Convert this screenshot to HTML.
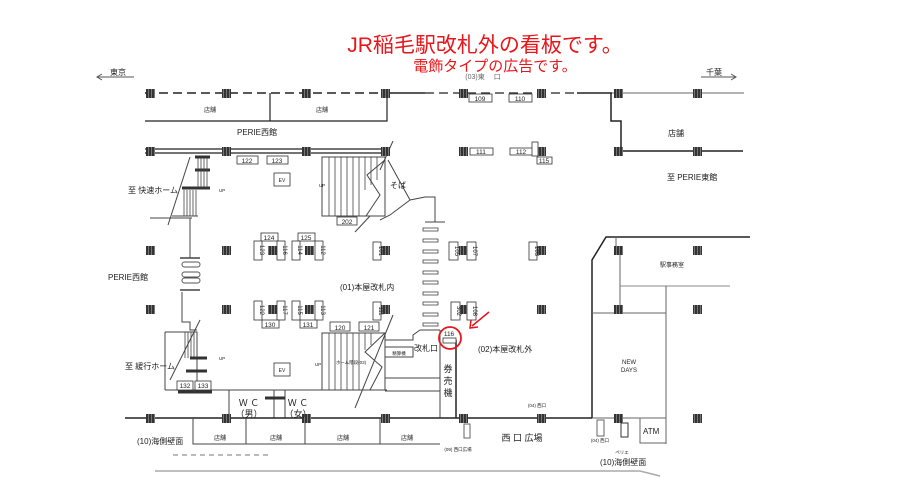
<!DOCTYPE html>
<html><head><meta charset="utf-8"><style>
html,body{margin:0;padding:0;background:#fff;width:919px;height:491px;overflow:hidden}
svg{display:block}
text{font-family:"Liberation Sans","Noto Sans CJK JP",sans-serif;fill:#222}
</style></head><body>
<svg width="919" height="491" viewBox="0 0 919 491" xmlns="http://www.w3.org/2000/svg">
<defs>
<pattern id="pp" width="3" height="3" patternUnits="userSpaceOnUse"><rect width="3" height="3" fill="#333"/><rect x="1" y="0" width="1" height="3" fill="#777"/></pattern>
</defs>
<!-- title -->
<text x="485" y="52" font-size="21" fill="#e8161b" style="fill:#e8161b" text-anchor="middle">JR稲毛駅改札外の看板です。</text>
<text x="495" y="71" font-size="15" style="fill:#e8161b" text-anchor="middle">電飾タイプの広告です。</text>
<text x="483" y="79" font-size="7" text-anchor="middle" style="fill:#666">(03)東　 口</text>
<!-- direction -->
<text x="110" y="75" font-size="8">東京</text>
<line x1="97" y1="77" x2="134" y2="77" stroke="#555" stroke-width="1"/>
<path d="M102 74 L97 77 L102 80" fill="none" stroke="#555"/>
<text x="706" y="75" font-size="8">千葉</text>
<line x1="701" y1="77" x2="736" y2="77" stroke="#555"/>
<path d="M731 74 L736 77 L731 80" fill="none" stroke="#555"/>

<g stroke="#222" fill="none">
<!-- top line -->
<line x1="145" y1="93" x2="385" y2="93" stroke-width="1.5" stroke-dasharray="9,5"/>
<line x1="385" y1="93" x2="425" y2="93" stroke-width="1.5"/>
<line x1="425" y1="93" x2="577" y2="93" stroke-width="1.2" stroke-dasharray="9,5"/>
<line x1="577" y1="93" x2="612" y2="93" stroke-width="1.5"/>
<line x1="612" y1="93" x2="744" y2="93" stroke="#888" stroke-width="1.2"/>
<!-- stores top -->
<polyline points="145,121 387,121 387,93" stroke-width="1.2"/>
<line x1="270" y1="93" x2="270" y2="121" stroke-width="1.2"/>
<!-- row2 -->
<line x1="145" y1="149" x2="390" y2="149" stroke-width="1.2"/>
<line x1="145" y1="153" x2="390" y2="153" stroke-width="1.2"/>
<polyline points="611,93 611,121 621,121 621,151 743,151" stroke-width="1.5"/>
<!-- soba area -->
<line x1="393" y1="141" x2="380" y2="170" stroke="#444"/>
<polyline points="388,160 410,200 390,215 380,220" stroke="#444"/>
<polyline points="410,200 425,197 435,197 435,222" stroke="#444"/>
<line x1="425" y1="222" x2="445" y2="222" stroke="#444"/>
<!-- left stair upper -->
<line x1="195" y1="157" x2="210" y2="157" stroke-width="3" stroke="#333"/>
<line x1="195" y1="170" x2="210" y2="170" stroke-width="3" stroke="#333"/>
<line x1="182" y1="188" x2="210" y2="188" stroke-width="3" stroke="#333"/>
<line x1="172" y1="216" x2="198" y2="216" stroke="#444"/>
<line x1="150" y1="218" x2="192" y2="218" stroke="#444"/>
<line x1="190" y1="157" x2="168" y2="225" stroke="#444"/>
<g stroke="#444" stroke-width="0.8">
<line x1="184" y1="190" x2="184" y2="216"/><line x1="187" y1="190" x2="187" y2="216"/><line x1="190" y1="190" x2="190" y2="216"/><line x1="193" y1="190" x2="193" y2="216"/><line x1="196" y1="190" x2="196" y2="216"/>
<line x1="198" y1="158" x2="198" y2="188"/><line x1="201" y1="158" x2="201" y2="188"/><line x1="204" y1="158" x2="204" y2="188"/><line x1="207" y1="158" x2="207" y2="188"/>
</g>
<line x1="190" y1="218" x2="190" y2="258" stroke="#444"/>
<line x1="180" y1="258" x2="200" y2="258" stroke="#444" stroke-width="1.5"/>
<rect x="182" y="262" width="18" height="5" rx="2.5" stroke="#555"/>
<rect x="182" y="272" width="18" height="5" rx="2.5" stroke="#555"/>
<rect x="182" y="278" width="18" height="5" rx="2.5" stroke="#555"/>
<!-- left stair lower -->
<line x1="180" y1="290" x2="200" y2="290" stroke="#444" stroke-width="1.5"/>
<polyline points="182,292 182,322 190,322 190,330 197,330" stroke="#444"/>
<polyline points="165,332 197,332 197,390" stroke="#444"/>
<polyline points="197,390 387,390" stroke="#444"/>
<line x1="200" y1="320" x2="170" y2="380" stroke="#444"/>
<g stroke="#444" stroke-width="0.8">
<line x1="185" y1="332" x2="185" y2="358"/><line x1="188" y1="332" x2="188" y2="358"/><line x1="191" y1="332" x2="191" y2="358"/><line x1="194" y1="332" x2="194" y2="358"/>
</g>
<line x1="190" y1="358" x2="207" y2="358" stroke-width="3" stroke="#333"/>
<line x1="186" y1="371" x2="207" y2="371" stroke-width="3" stroke="#333"/>
<line x1="178" y1="392" x2="212" y2="392" stroke-width="3" stroke="#333"/>
<line x1="165" y1="332" x2="165" y2="390" stroke="#444"/>
<line x1="165" y1="390" x2="197" y2="390" stroke="#444"/>
<!-- big stair upper -->
<rect x="322" y="157" width="63" height="59" stroke="#444"/>
<g stroke="#444" stroke-width="0.8">
<line x1="329" y1="157" x2="329" y2="216"/><line x1="335" y1="157" x2="335" y2="216"/><line x1="341" y1="157" x2="341" y2="216"/><line x1="347" y1="157" x2="347" y2="216"/><line x1="353" y1="157" x2="353" y2="216"/><line x1="359" y1="157" x2="359" y2="216"/><line x1="365" y1="157" x2="365" y2="190"/><line x1="371" y1="157" x2="371" y2="185"/><line x1="377" y1="157" x2="377" y2="180"/>
</g>
<polyline points="385,160 367,175 380,195 366,216" stroke="#444"/>
<line x1="370" y1="216" x2="355" y2="232" stroke="#444"/>
<!-- big stair lower -->
<rect x="322" y="333" width="63" height="57" stroke="#444"/>
<g stroke="#444" stroke-width="0.8">
<line x1="329" y1="333" x2="329" y2="390"/><line x1="335" y1="333" x2="335" y2="390"/><line x1="341" y1="333" x2="341" y2="390"/><line x1="347" y1="333" x2="347" y2="390"/><line x1="353" y1="333" x2="353" y2="390"/><line x1="359" y1="333" x2="359" y2="390"/><line x1="365" y1="333" x2="365" y2="350"/><line x1="371" y1="333" x2="371" y2="345"/>
</g>
<polyline points="385,333 365,352 382,367 370,390" stroke="#444"/>
<line x1="393" y1="315" x2="355" y2="408" stroke="#444"/>
<rect x="385" y="347" width="28" height="10" stroke="#444"/>
<polyline points="385,340 413,340 413,335 420,330 440,330" stroke="#444"/>
<line x1="385" y1="378" x2="440" y2="378" stroke="#444"/>
<line x1="385" y1="391" x2="440" y2="391" stroke="#444"/>
<line x1="440" y1="330" x2="440" y2="418" stroke="#444"/>
<polyline points="456,340 456,418" stroke-width="1.5"/>
<!-- WC -->
<line x1="229" y1="390" x2="229" y2="418" stroke="#444"/>
<line x1="274" y1="390" x2="274" y2="418" stroke="#444"/>
<line x1="285" y1="390" x2="285" y2="418" stroke="#444"/>
<line x1="265" y1="398" x2="285" y2="398" stroke-width="3" stroke="#333"/>
<!-- bottom line -->
<line x1="125" y1="418" x2="592" y2="418" stroke-width="1.5"/>
<line x1="592" y1="418" x2="666" y2="418" stroke="#666"/>
<polyline points="193,418 193,444 440,444" stroke="#444"/>
<line x1="246" y1="418" x2="246" y2="444" stroke="#444"/>
<line x1="305" y1="418" x2="305" y2="444" stroke="#444"/>
<line x1="380" y1="418" x2="380" y2="444" stroke="#444"/>
<line x1="173" y1="455" x2="268" y2="455" stroke="#777" stroke-dasharray="5,4"/>
<path d="M155 471 L640 471 L660 476" stroke="#aaa" stroke-width="1.5"/>
<!-- gates -->
<g stroke="#444" stroke-width="0.8">
<rect x="423" y="228" width="15" height="3"/><rect x="423" y="239" width="15" height="3"/><rect x="423" y="250" width="15" height="3"/><rect x="423" y="260" width="15" height="3"/><rect x="423" y="271" width="15" height="3"/><rect x="423" y="281" width="15" height="3"/><rect x="423" y="292" width="15" height="3"/><rect x="423" y="302" width="15" height="3"/><rect x="423" y="313" width="15" height="3"/><rect x="423" y="323" width="15" height="3"/>
</g>
<!-- right building -->
<polyline points="592,418 592,260 606,237 750,237" stroke-width="1.5"/>
<polyline points="616,237 616,251 620,251 620,313" stroke="#666"/>
<line x1="620" y1="286" x2="730" y2="286" stroke="#888"/>
<line x1="592" y1="313" x2="666" y2="313" stroke="#666"/>
<line x1="666" y1="286" x2="666" y2="444" stroke="#666"/>
<rect x="640" y="418" width="26" height="25" stroke="#666"/>
<rect x="597" y="420" width="7" height="16" stroke="#666"/>
<rect x="621" y="423" width="7" height="14" stroke="#333"/>
<rect x="464" y="424" width="6" height="14" stroke="#666"/>
</g>

<!-- pillars -->
<g fill="url(#pp)">
<rect x="146" y="89" width="9" height="9"/><rect x="222" y="89" width="9" height="9"/><rect x="302" y="89" width="9" height="9"/><rect x="381" y="89" width="9" height="9"/><rect x="459" y="89" width="9" height="9"/><rect x="537" y="89" width="9" height="9"/><rect x="614" y="89" width="9" height="9"/><rect x="693" y="89" width="9" height="9"/>
<rect x="146" y="147" width="9" height="9"/><rect x="222" y="147" width="9" height="9"/><rect x="302" y="147" width="9" height="9"/><rect x="381" y="147" width="9" height="9"/><rect x="459" y="147" width="9" height="9"/><rect x="537" y="147" width="9" height="9"/><rect x="614" y="147" width="9" height="9"/><rect x="693" y="147" width="9" height="9"/>
<rect x="146" y="246" width="9" height="9"/><rect x="222" y="246" width="9" height="9"/><rect x="268" y="246" width="9" height="9"/><rect x="305" y="246" width="9" height="9"/><rect x="381" y="246" width="9" height="9"/><rect x="459" y="246" width="9" height="9"/><rect x="537" y="246" width="9" height="9"/><rect x="614" y="246" width="9" height="9"/><rect x="693" y="246" width="9" height="9"/>
<rect x="146" y="305" width="9" height="9"/><rect x="222" y="305" width="9" height="9"/><rect x="268" y="305" width="9" height="9"/><rect x="305" y="305" width="9" height="9"/><rect x="381" y="305" width="9" height="9"/><rect x="459" y="305" width="9" height="9"/><rect x="537" y="305" width="9" height="9"/><rect x="614" y="305" width="9" height="9"/><rect x="693" y="305" width="9" height="9"/>
<rect x="146" y="414" width="9" height="9"/><rect x="222" y="414" width="9" height="9"/><rect x="302" y="414" width="9" height="9"/><rect x="381" y="414" width="9" height="9"/><rect x="459" y="414" width="9" height="9"/><rect x="537" y="414" width="9" height="9"/><rect x="614" y="414" width="9" height="9"/><rect x="693" y="414" width="9" height="9"/>
</g>

<!-- ad boxes -->
<g stroke="#333" fill="#fff" stroke-width="0.8">
<rect x="237" y="156" width="21" height="8"/><rect x="267" y="156" width="21" height="8"/>
<rect x="337" y="217" width="20" height="8"/>
<rect x="469" y="94" width="23" height="8"/><rect x="509" y="94" width="23" height="8"/>
<rect x="470" y="148" width="23" height="7"/><rect x="510" y="148" width="23" height="7"/>
<rect x="532" y="142" width="6" height="14"/><rect x="537" y="157" width="15" height="7"/>
<rect x="261" y="233" width="17" height="8"/><rect x="298" y="233" width="17" height="8"/>
<rect x="254" y="241" width="8" height="19"/><rect x="277" y="241" width="8" height="19"/>
<rect x="292" y="241" width="8" height="19"/><rect x="315" y="241" width="8" height="19"/>
<rect x="373" y="242" width="8" height="18"/>
<rect x="449" y="242" width="9" height="18"/><rect x="467" y="242" width="9" height="18"/>
<rect x="529" y="242" width="8" height="18"/>
<rect x="254" y="301" width="8" height="19"/><rect x="277" y="301" width="8" height="19"/>
<rect x="292" y="301" width="8" height="19"/><rect x="315" y="301" width="8" height="19"/>
<rect x="262" y="320" width="17" height="8"/><rect x="300" y="320" width="17" height="8"/>
<rect x="373" y="302" width="8" height="18"/>
<rect x="451" y="302" width="9" height="18"/><rect x="467" y="302" width="9" height="18"/>
<rect x="330" y="322" width="20" height="9"/><rect x="359" y="322" width="20" height="9"/>
<rect x="177" y="381" width="16" height="9"/><rect x="195" y="381" width="16" height="9"/>
<rect x="274" y="173" width="16" height="13"/><rect x="274" y="363" width="16" height="13"/>
<rect x="443" y="338" width="13" height="5"/>
</g>
<g font-size="6.5" text-anchor="middle">
<text x="247" y="163">122</text><text x="277" y="163">123</text><text x="347" y="224">202</text>
<text x="480" y="101">109</text><text x="520" y="101">110</text>
<text x="481" y="154">111</text><text x="521" y="154">112</text><text x="544" y="163">115</text>
<text x="269" y="240">124</text><text x="306" y="240">125</text>
<text x="270" y="327">130</text><text x="308" y="327">131</text>
<text x="340" y="330">120</text><text x="369" y="330">121</text>
<text x="185" y="388">132</text><text x="203" y="388">133</text>
<text x="449" y="336">116</text>
<text x="282" y="182" font-size="5">EV</text><text x="282" y="372" font-size="5">EV</text>
</g>
<g font-size="6" text-anchor="middle">
<text transform="translate(260,250) rotate(90)">123</text><text transform="translate(283,250) rotate(90)">116</text>
<text transform="translate(298,250) rotate(90)">114</text><text transform="translate(321,250) rotate(90)">112</text>
<text transform="translate(379,251) rotate(90)">101</text>
<text transform="translate(455,251) rotate(90)">105</text><text transform="translate(473,251) rotate(90)">107</text>
<text transform="translate(535,251) rotate(90)">103</text>
<text transform="translate(260,310) rotate(90)">122</text><text transform="translate(283,310) rotate(90)">117</text>
<text transform="translate(298,310) rotate(90)">115</text><text transform="translate(321,310) rotate(90)">113</text>
<text transform="translate(379,311) rotate(90)">111</text>
<text transform="translate(457,311) rotate(90)">302</text><text transform="translate(473,311) rotate(90)">108</text>
</g>

<!-- red marker -->
<circle cx="450" cy="338" r="11" fill="none" stroke="#e8161b" stroke-width="1.8"/>
<line x1="489" y1="312" x2="472" y2="326" stroke="#e8161b" stroke-width="1.5"/>
<path d="M471 320 L470 328 L478 327" fill="none" stroke="#e8161b" stroke-width="1.5"/>

<!-- labels -->
<g font-size="6" text-anchor="middle">
<text x="210" y="112">店舗</text><text x="322" y="112">店舗</text>
<text x="220" y="440">店舗</text><text x="276" y="440">店舗</text><text x="343" y="440">店舗</text><text x="407" y="440">店舗</text>
<text x="222" y="192" font-size="4.5">UP</text><text x="322" y="187" font-size="4.5">UP</text>
<text x="222" y="360" font-size="4.5">UP</text><text x="318" y="366" font-size="4.5">UP</text>
<text x="351" y="364" font-size="4.5">ホーム階段(03)</text>
<text x="399" y="355" font-size="4.5">精算機</text>
<text x="672" y="267" font-size="6">駅事務室</text>
<text x="629" y="364" font-size="6">NEW</text><text x="629" y="372" font-size="6">DAYS</text>
<text x="537" y="407" font-size="4.5">(04) 西口</text>
<text x="600" y="442" font-size="4.5">(04) 西口</text>
<text x="458" y="451" font-size="4.5">(09) 西口広場</text>
<text x="622" y="454" font-size="4.5">ペリエ</text>
</g>
<g font-size="8">
<text x="237" y="135">PERIE西館</text>
<text x="128" y="193">至 快速ホーム</text>
<text x="390" y="188">そば</text>
<text x="108" y="280">PERIE西館</text>
<text x="340" y="290">(01)本屋改札内</text>
<text x="125" y="369">至 緩行ホーム</text>
<text x="414" y="351">改札口</text>
<text x="478" y="352">(02)本屋改札外</text>
<text x="137" y="444">(10)海側壁面</text>
<text x="668" y="136">店舗</text>
<text x="667" y="180">至 PERIE東館</text>
<text x="600" y="465">(10)海側壁面</text>
<text x="643" y="434">ATM</text>
</g>
<g font-size="9" text-anchor="middle">
<text x="249" y="406">Ｗ Ｃ</text><text x="249" y="417">（男）</text>
<text x="298" y="406">Ｗ Ｃ</text><text x="298" y="417">（女）</text>
<text x="448" y="372">券</text><text x="448" y="384">売</text><text x="448" y="396">機</text>
<text x="522" y="441">西 口 広場</text>
</g>
</svg>
</body></html>
